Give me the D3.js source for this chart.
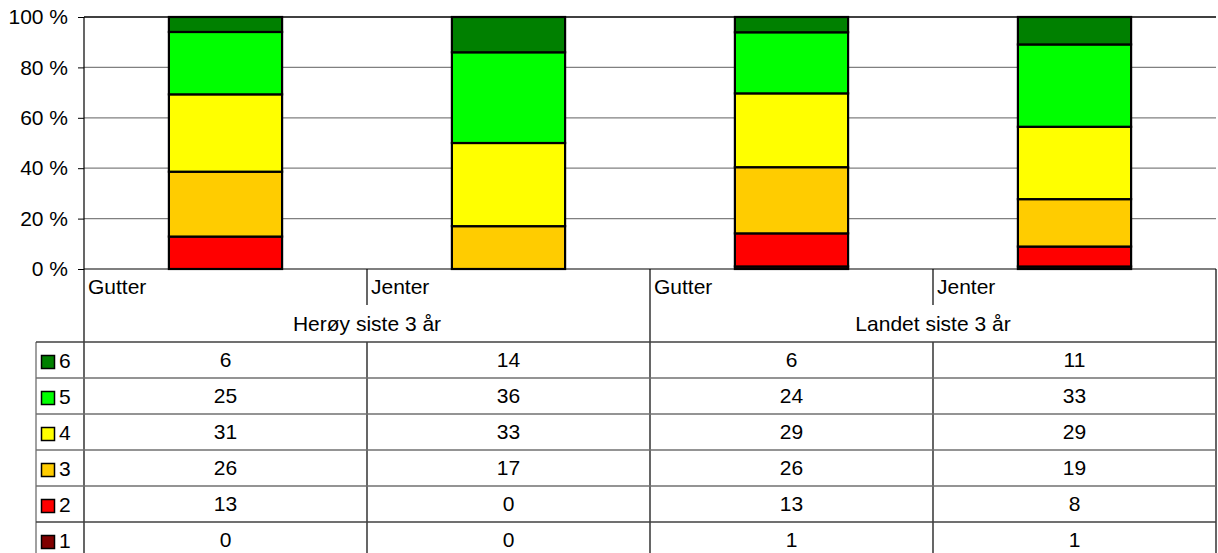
<!DOCTYPE html>
<html>
<head>
<meta charset="utf-8">
<script src="https://cdn.jsdelivr.net/npm/d3@7"></script>
<style>
  html, body { margin: 0; padding: 0; background: #fff; }
  svg { display: block; }
  text { font-family: "Liberation Sans", Arial, sans-serif; fill: #000; }
</style>
</head>
<body>
<svg id="chart" width="1218" height="553"></svg>
<script>
// ---- data ----
const categories = ["Gutter", "Jenter", "Gutter", "Jenter"];
const groups = ["Herøy siste 3 år", "Landet siste 3 år"];
const grades = ["1", "2", "3", "4", "5", "6"];
const grade1 = [0, 0, 1, 1];
const grade2 = [13, 0, 13, 8];
const grade3 = [26, 17, 26, 19];
const grade4 = [31, 33, 29, 29];
const grade5 = [25, 36, 24, 33];
const grade6 = [6, 14, 6, 11];
const yTicks = [0, 0.2, 0.4, 0.6, 0.8, 1.0];
const colors = ["#800000", "#ff0000", "#ffcc00", "#ffff00", "#00ff00", "#008000"];

const seriesValues = [grade1, grade2, grade3, grade4, grade5, grade6];

// ---- layout ----
const svg = d3.select("#chart");
const plotLeft = 84, plotRight = 1216, plotTop = 17, plotBottom = 269;
const catRowBottom = 305, groupRowBottom = 342, rowH = 36, legendLeft = 36;
const fontSize = 21;

const rows = categories.map((c, i) => {
  const r = { idx: i };
  grades.forEach((g, k) => r[g] = seriesValues[k][i]);
  return r;
});

const x = d3.scaleBand().domain(d3.range(categories.length)).range([plotLeft, plotRight]).padding(0);
const y = d3.scaleLinear().domain([0, 1]).range([plotBottom, plotTop]);
const color = d3.scaleOrdinal().domain(grades).range(colors);

const stack = d3.stack().keys(grades).offset(d3.stackOffsetExpand);
const stacked = stack(rows);

// gridlines
svg.append("g").selectAll("line").data(yTicks.filter(t => t > 0)).join("line")
  .attr("x1", plotLeft).attr("x2", plotRight)
  .attr("y1", d => y(d)).attr("y2", d => y(d))
  .attr("stroke", d => d === 1 ? "#404040" : "#808080").attr("stroke-width", d => d === 1 ? 1.8 : 1.2);

// y axis
const yAxis = d3.axisLeft(y).tickValues(yTicks).tickSize(6).tickPadding(10)
  .tickFormat(d => Math.round(d * 100) + " %");
const ya = svg.append("g").attr("transform", `translate(${plotLeft},0)`).call(yAxis);
ya.select(".domain").remove();
ya.selectAll(".tick line").attr("stroke", "#000");
ya.selectAll(".tick text").attr("font-size", fontSize).attr("font-family", "Liberation Sans, Arial, sans-serif").attr("fill", "#000");

// bars
const barW = x.bandwidth() * 0.4;
svg.append("g").selectAll("g").data(stacked).join("g")
  .attr("fill", d => color(d.key))
  .selectAll("rect").data(d => d).join("rect")
  .attr("x", (d, i) => x(i) + (x.bandwidth() - barW) / 2)
  .attr("width", barW)
  .attr("y", d => y(d[1]))
  .attr("height", d => y(d[0]) - y(d[1]))
  .attr("stroke", "#000").attr("stroke-width", 2.2);

// axis lines
svg.append("line").attr("x1", plotLeft).attr("x2", plotLeft).attr("y1", plotTop).attr("y2", 553)
  .attr("stroke", "#000").attr("stroke-width", 1.2);
svg.append("line").attr("x1", plotLeft).attr("x2", plotRight).attr("y1", plotBottom).attr("y2", plotBottom)
  .attr("stroke", "#000").attr("stroke-width", 1.2);

// ---- table ----
const tbl = svg.append("g");
// category labels
tbl.selectAll("text.cat").data(categories).join("text").attr("class", "cat")
  .attr("x", (d, i) => x(i) + 4).attr("y", 294)
  .attr("font-size", fontSize).text(d => d);
// group labels
const groupW = x.bandwidth() * 2;
tbl.selectAll("text.grp").data(groups).join("text").attr("class", "grp")
  .attr("x", (d, i) => plotLeft + groupW * i + groupW / 2).attr("y", 331)
  .attr("text-anchor", "middle").attr("font-size", fontSize).text(d => d);

// vertical lines
d3.range(categories.length + 1).forEach(i => {
  const xx = i < categories.length ? x(i) : plotRight;
  if (i === 0) return;
  if (i % 2 === 0) {
    tbl.append("line").attr("x1", xx).attr("x2", xx).attr("y1", plotBottom).attr("y2", 553)
      .attr("stroke", "#000").attr("stroke-width", 1.2);
  } else {
    tbl.append("line").attr("x1", xx).attr("x2", xx).attr("y1", plotBottom).attr("y2", catRowBottom)
      .attr("stroke", "#000").attr("stroke-width", 1.2);
    tbl.append("line").attr("x1", xx).attr("x2", xx).attr("y1", groupRowBottom).attr("y2", 553)
      .attr("stroke", "#000").attr("stroke-width", 1.2);
  }
});
tbl.append("line").attr("x1", legendLeft).attr("x2", legendLeft).attr("y1", groupRowBottom).attr("y2", 553)
  .attr("stroke", "#808080").attr("stroke-width", 1.5);

// data rows (top: grade 6)
const tableGrades = grades.slice().reverse();
tableGrades.forEach((g, r) => {
  const top = groupRowBottom + r * rowH;
  tbl.append("line").attr("x1", legendLeft).attr("x2", plotRight).attr("y1", top).attr("y2", top)
    .attr("stroke", r === 0 || r === 5 ? "#404040" : "#707070").attr("stroke-width", 1.5);
  tbl.append("rect").attr("x", 41.5).attr("y", top + 13.5).attr("width", 13).attr("height", 13)
    .attr("fill", color(g)).attr("stroke", "#000").attr("stroke-width", 1.5);
  tbl.append("text").attr("x", 59).attr("y", top + 26).attr("font-size", fontSize).text(g);
  const vals = seriesValues[grades.indexOf(g)];
  vals.forEach((v, i) => {
    tbl.append("text").attr("x", x(i) + x.bandwidth() / 2).attr("y", top + 25)
      .attr("text-anchor", "middle").attr("font-size", fontSize).text(v);
  });
});
</script>
</body>
</html>
